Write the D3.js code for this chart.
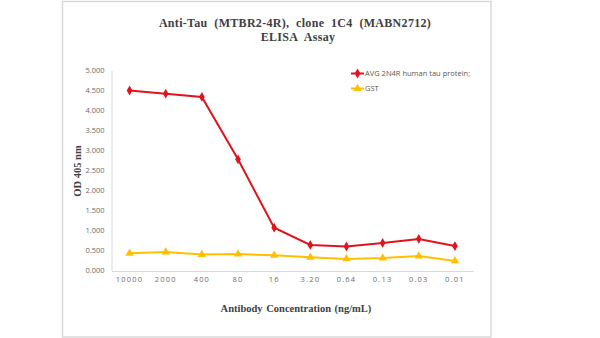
<!DOCTYPE html>
<html><head><meta charset="utf-8">
<script src="https://cdn.jsdelivr.net/npm/d3@7"></script>
<style>body{margin:0;background:#fff}svg{display:block}</style>
</head><body>
<svg id="c" width="600" height="338"></svg>
<script>
const categories = ["10000","2000","400","80","16","3.20","0.64","0.13","0.03","0.01"];
const tauValues = [4.50, 4.42, 4.34, 2.78, 1.07, 0.64, 0.60, 0.69, 0.79, 0.61];
const gstValues = [0.43, 0.46, 0.40, 0.41, 0.38, 0.33, 0.29, 0.31, 0.36, 0.24];
const yTicks = [0, 0.5, 1, 1.5, 2, 2.5, 3, 3.5, 4, 4.5, 5];
const seriesNames = ["AVG 2N4R human tau protein;", "GST"];
const seriesColors = ["#e0141c", "#ffc000"];

const svg = d3.select("#c");
const x = d3.scaleBand().domain(categories).range([111.5, 473]);
const y = d3.scaleLinear().domain([0, 5]).range([270.5, 70.5]);

// frame
svg.append("rect").attr("x", 62.5).attr("y", 1.5).attr("width", 428.5).attr("height", 335.5)
  .attr("fill", "none").attr("stroke", "#d9d9d9").attr("stroke-width", 1.5);

// title
const title = svg.append("text").attr("text-anchor", "middle")
  .attr("font-family", "Liberation Serif, Times New Roman, serif").attr("font-weight", "bold")
  .attr("font-size", 12).attr("fill", "#404040").attr("word-spacing", 3.5).attr("letter-spacing", 0.3);
title.append("tspan").attr("x", 295).attr("y", 27).text("Anti-Tau (MTBR2-4R), clone 1C4 (MABN2712)");
title.append("tspan").attr("x", 298).attr("y", 40.5).text("ELISA Assay");

// y axis
const yAxis = svg.append("g").attr("transform", "translate(111.5,0)")
  .call(d3.axisLeft(y).tickValues(yTicks).tickFormat(d3.format(".3f")).tickSize(0).tickPadding(7));
yAxis.select(".domain").attr("stroke", "#d9d9d9").attr("stroke-width", 1);
yAxis.selectAll("text").attr("font-family", "Open Sans, Liberation Sans, sans-serif")
  .attr("font-size", 7.5).attr("fill", "#6b6b6b");

// x axis
const xAxis = svg.append("g").attr("transform", "translate(0,271)")
  .call(d3.axisBottom(x).tickSize(0).tickPadding(6));
xAxis.select(".domain").attr("stroke", "#d9d9d9").attr("stroke-width", 1.2);
xAxis.selectAll("text").attr("font-family", "Open Sans, Liberation Sans, sans-serif")
  .attr("font-size", 7.5).attr("fill", "#6b6b6b").attr("letter-spacing", 1.2);

// axis titles
svg.append("text").attr("transform", "translate(81,171) rotate(-90)").attr("text-anchor", "middle")
  .attr("font-family", "Liberation Serif, Times New Roman, serif").attr("font-weight", "bold")
  .attr("font-size", 10.5).attr("fill", "#404040").text("OD 405 nm");
svg.append("text").attr("x", 296).attr("y", 312).attr("text-anchor", "middle")
  .attr("font-family", "Liberation Serif, Times New Roman, serif").attr("font-weight", "bold")
  .attr("font-size", 10.5).attr("fill", "#404040").attr("word-spacing", 1).text("Antibody Concentration (ng/mL)");

const line = d3.line().x((d, i) => x(categories[i]) + x.bandwidth() / 2).y(d => y(d));
const diamond = d3.symbol().type(d3.symbolDiamond).size(28);
const tri = d3.symbol().type(d3.symbolTriangle).size(30);

function drawSeries(vals, color, sym) {
  svg.append("path").datum(vals).attr("d", line).attr("fill", "none")
    .attr("stroke", color).attr("stroke-width", 2);
  svg.append("g").selectAll("path").data(vals).join("path")
    .attr("d", sym)
    .attr("transform", (d, i) => `translate(${x(categories[i]) + x.bandwidth() / 2},${y(d)})`)
    .attr("fill", color);
}
drawSeries(gstValues, seriesColors[1], tri);
drawSeries(tauValues, seriesColors[0], diamond);

// legend
const legY = [73.5, 88.5];
const syms = [diamond, tri];
seriesNames.forEach((n, i) => {
  const g = svg.append("g");
  g.append("line").attr("x1", 351).attr("x2", 364).attr("y1", legY[i]).attr("y2", legY[i])
    .attr("stroke", seriesColors[i]).attr("stroke-width", 2);
  g.append("path").attr("d", syms[i]).attr("transform", `translate(357.5,${legY[i]})`).attr("fill", seriesColors[i]);
  g.append("text").attr("x", 365).attr("y", legY[i] + 2.7)
    .attr("font-family", "Open Sans, Liberation Sans, sans-serif").attr("font-size", 7.5)
    .attr("fill", "#595959").text(n);
});
</script>
</body></html>
